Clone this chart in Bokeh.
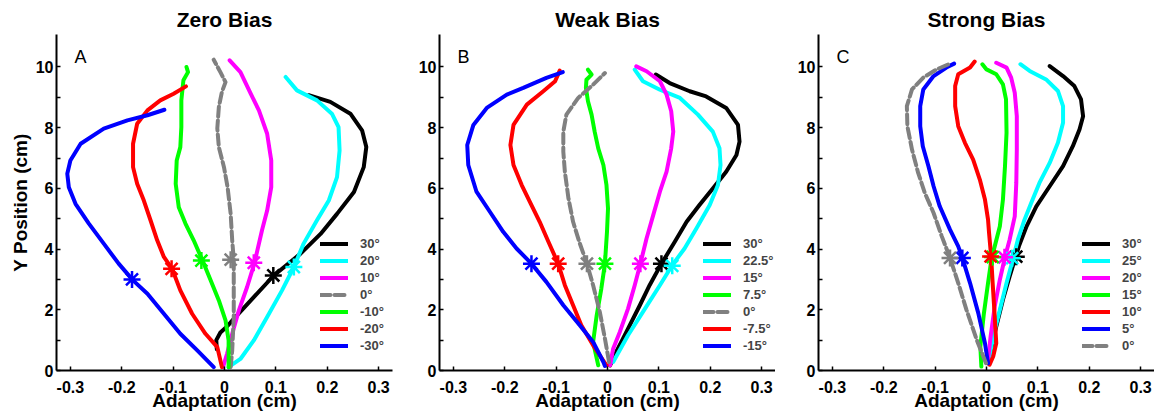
from bokeh.plotting import figure
from bokeh.models import FixedTicker, Legend, LegendItem, Label
from bokeh.layouts import row
from bokeh.embed import file_html
from bokeh.resources import INLINE

# ---------------- Panel A: Zero Bias ----------------
A_labels = ["30°", "20°", "10°", "0°", "-10°", "-20°", "-30°"]
A_colors = ["black", "cyan", "magenta", "gray", "green", "red", "blue"]
A_p30_x = [-0.015, -0.016, -0.008, 0.005, 0.018, 0.057, 0.096, 0.148, 0.187, 0.219, 0.252, 0.271, 0.276, 0.268, 0.245, 0.206, 0.164]
A_p30_y = [0.70, 1.00, 1.25, 1.45, 1.70, 2.42, 3.13, 3.85, 4.50, 5.16, 5.88, 6.70, 7.36, 7.90, 8.46, 8.85, 9.07]
A_p20_x = [0.008, 0.012, 0.031, 0.057, 0.083, 0.112, 0.135, 0.154, 0.180, 0.203, 0.219, 0.224, 0.222, 0.209, 0.180, 0.141, 0.119]
A_p20_y = [0.10, 0.16, 0.38, 0.99, 1.76, 2.64, 3.41, 4.18, 4.95, 5.60, 6.37, 7.25, 8.02, 8.46, 8.90, 9.23, 9.67]
A_p10_x = [-0.003, 0.005, 0.015, 0.028, 0.044, 0.058, 0.073, 0.083, 0.091, 0.091, 0.083, 0.067, 0.051, 0.031, 0.010]
A_p10_y = [0.11, 0.55, 1.21, 1.98, 2.75, 3.52, 4.62, 5.27, 6.04, 6.92, 7.80, 8.57, 9.12, 9.83, 10.22]
A_0_x = [0.012, 0.015, 0.018, 0.018, 0.018, 0.015, 0.012, 0.006, -0.001, -0.011, -0.014, -0.011, -0.005, 0.002, -0.008, -0.021]
A_0_y = [0.11, 0.66, 1.76, 2.86, 3.65, 4.29, 5.16, 6.04, 6.70, 7.36, 7.98, 8.68, 9.18, 9.50, 9.83, 10.24]
A_m10_x = [0.008, 0.008, 0.002, -0.011, -0.027, -0.043, -0.060, -0.076, -0.089, -0.095, -0.093, -0.086, -0.084, -0.084, -0.080, -0.071, -0.074]
A_m10_y = [0.11, 0.99, 1.65, 2.31, 2.97, 3.63, 4.29, 4.84, 5.38, 6.15, 6.92, 7.36, 8.02, 8.90, 9.56, 9.83, 10.00]
A_m20_x = [-0.005, -0.014, -0.037, -0.063, -0.086, -0.102, -0.118, -0.131, -0.144, -0.157, -0.170, -0.178, -0.178, -0.170, -0.150, -0.125, -0.099, -0.075]
A_m20_y = [0.11, 0.77, 1.21, 1.87, 2.64, 3.35, 3.74, 4.29, 4.95, 5.60, 6.15, 6.70, 7.47, 8.13, 8.57, 8.90, 9.12, 9.36]
A_m30_x = [-0.021, -0.053, -0.086, -0.118, -0.150, -0.178, -0.206, -0.235, -0.264, -0.290, -0.303, -0.306, -0.300, -0.280, -0.235, -0.189, -0.150, -0.117]
A_m30_y = [0.11, 0.66, 1.21, 1.87, 2.53, 2.97, 3.52, 4.18, 4.84, 5.49, 6.04, 6.48, 6.92, 7.47, 7.97, 8.24, 8.41, 8.59]
A_star_x = [0.095, 0.135, 0.057, 0.012, -0.045, -0.103, -0.180]
A_star_y = [3.13, 3.41, 3.55, 3.65, 3.62, 3.35, 3.00]

# ---------------- Panel B: Weak Bias ----------------
B_labels = ["30°", "22.5°", "15°", "7.5°", "0°", "-7.5°", "-15°"]
B_colors = ["black", "cyan", "magenta", "green", "gray", "red", "blue"]
B_p30_x = [0.005, 0.017, 0.040, 0.063, 0.082, 0.105, 0.131, 0.154, 0.179, 0.205, 0.231, 0.251, 0.257, 0.254, 0.231, 0.192, 0.160, 0.121, 0.094]
B_p30_y = [0.17, 0.61, 1.38, 2.15, 2.81, 3.52, 4.24, 4.90, 5.45, 6.00, 6.55, 7.10, 7.54, 8.09, 8.65, 9.03, 9.20, 9.47, 9.75]
B_p225_x = [0.011, 0.040, 0.069, 0.102, 0.126, 0.150, 0.173, 0.199, 0.215, 0.220, 0.218, 0.205, 0.176, 0.141, 0.102, 0.069, 0.053]
B_p225_y = [0.28, 1.16, 1.93, 2.81, 3.47, 4.02, 4.68, 5.45, 6.11, 6.77, 7.32, 7.87, 8.43, 8.98, 9.25, 9.53, 9.91]
B_p15_x = [0.005, 0.011, 0.024, 0.040, 0.053, 0.064, 0.076, 0.089, 0.102, 0.115, 0.124, 0.128, 0.124, 0.115, 0.102, 0.076, 0.056]
B_p15_y = [0.17, 0.72, 1.27, 2.04, 2.81, 3.52, 4.35, 5.12, 5.89, 6.55, 7.32, 7.87, 8.54, 9.09, 9.53, 9.86, 10.02]
B_p75_x = [-0.018, -0.028, -0.021, -0.012, -0.005, -0.001, 0.001, -0.002, -0.008, -0.018, -0.025, -0.031, -0.038, -0.042, -0.041, -0.031, -0.038]
B_p75_y = [0.17, 0.94, 1.82, 2.70, 3.52, 4.57, 5.34, 6.11, 6.77, 7.32, 7.87, 8.43, 8.87, 9.31, 9.58, 9.75, 9.91]
B_0_x = [0.003, -0.005, -0.015, -0.028, -0.040, -0.055, -0.067, -0.076, -0.083, -0.086, -0.086, -0.080, -0.057, -0.028, -0.005]
B_0_y = [0.28, 1.05, 1.93, 2.81, 3.52, 4.24, 4.90, 5.67, 6.55, 7.21, 7.87, 8.43, 8.98, 9.42, 9.80]
B_m75_x = [-0.002, -0.028, -0.051, -0.067, -0.083, -0.096, -0.115, -0.132, -0.148, -0.167, -0.183, -0.189, -0.183, -0.157, -0.125, -0.102, -0.093]
B_m75_y = [0.17, 0.83, 1.49, 2.15, 2.81, 3.52, 4.24, 4.90, 5.45, 6.11, 6.77, 7.43, 8.09, 8.76, 9.20, 9.53, 9.88]
B_m15_x = [-0.005, -0.008, -0.028, -0.054, -0.086, -0.119, -0.148, -0.177, -0.203, -0.229, -0.255, -0.271, -0.273, -0.261, -0.235, -0.196, -0.164, -0.119, -0.087]
B_m15_y = [0.15, 0.28, 0.94, 1.49, 2.15, 2.92, 3.52, 4.02, 4.57, 5.23, 5.89, 6.77, 7.43, 8.09, 8.65, 9.09, 9.31, 9.64, 9.83]
B_star_x = [0.105, 0.126, 0.064, -0.005, -0.040, -0.096, -0.148]
B_star_y = [3.52, 3.45, 3.52, 3.52, 3.52, 3.52, 3.52]

# ---------------- Panel C: Strong Bias ----------------
C_labels = ["30°", "25°", "20°", "15°", "10°", "5°", "0°"]
C_colors = ["black", "cyan", "magenta", "green", "red", "blue", "gray"]
C_p30_x = [0.003, 0.010, 0.019, 0.032, 0.045, 0.057, 0.063, 0.078, 0.097, 0.123, 0.149, 0.168, 0.181, 0.188, 0.184, 0.171, 0.149, 0.123]
C_p30_y = [0.24, 0.79, 1.45, 2.33, 3.10, 3.76, 4.09, 4.75, 5.41, 6.07, 6.73, 7.39, 7.94, 8.38, 8.93, 9.37, 9.70, 10.03]
C_p25_x = [0.005, 0.013, 0.026, 0.039, 0.052, 0.061, 0.074, 0.087, 0.103, 0.123, 0.139, 0.149, 0.149, 0.139, 0.116, 0.084, 0.066]
C_p25_y = [0.35, 1.12, 2.00, 2.88, 3.71, 4.31, 4.97, 5.52, 6.18, 6.84, 7.50, 8.16, 8.71, 9.21, 9.59, 9.87, 10.09]
C_p20_x = [0.003, 0.008, 0.016, 0.026, 0.036, 0.045, 0.055, 0.058, 0.059, 0.059, 0.055, 0.048, 0.039, 0.019]
C_p20_y = [0.35, 1.12, 2.11, 2.99, 3.74, 4.31, 5.08, 6.18, 7.28, 8.38, 9.15, 9.65, 9.98, 10.14]
C_p15_x = [-0.010, -0.012, -0.005, 0.003, 0.010, 0.016, 0.026, 0.032, 0.036, 0.039, 0.038, 0.032, 0.019, 0.000, -0.008]
C_p15_y = [0.13, 0.79, 1.89, 2.88, 3.71, 4.09, 4.75, 5.63, 6.73, 7.83, 8.93, 9.43, 9.76, 9.92, 10.09]
C_p10_x = [0.006, 0.013, 0.019, 0.016, 0.012, 0.009, 0.005, 0.003, -0.003, -0.013, -0.026, -0.042, -0.055, -0.061, -0.061, -0.055, -0.032, -0.023]
C_p10_y = [0.19, 0.46, 0.90, 1.78, 2.88, 3.76, 4.53, 4.97, 5.63, 6.29, 6.95, 7.50, 8.05, 8.71, 9.37, 9.76, 9.98, 10.18]
C_p5_x = [0.003, -0.003, -0.016, -0.032, -0.047, -0.055, -0.071, -0.091, -0.103, -0.113, -0.124, -0.129, -0.129, -0.123, -0.103, -0.078, -0.063]
C_p5_y = [0.24, 0.90, 1.89, 2.88, 3.71, 4.09, 4.64, 5.41, 6.07, 6.73, 7.39, 8.05, 8.71, 9.26, 9.70, 9.98, 10.11]
C_0_x = [-0.001, -0.019, -0.039, -0.055, -0.071, -0.087, -0.103, -0.120, -0.133, -0.145, -0.154, -0.155, -0.145, -0.123, -0.097, -0.071]
C_0_y = [0.24, 1.01, 2.00, 2.88, 3.71, 4.42, 5.19, 5.85, 6.51, 7.28, 8.05, 8.71, 9.26, 9.65, 9.92, 10.11]
C_star_x = [0.058, 0.050, 0.035, 0.012, 0.008, -0.047, -0.071]
C_star_y = [3.75, 3.70, 3.73, 3.74, 3.76, 3.71, 3.71]

# ---------------- axis ticks ----------------
x_ticks = [-0.3, -0.2, -0.1, 0, 0.1, 0.2, 0.3]
x_tick_labels = ["-0.3", "-0.2", "-0.1", "0", "0.1", "0.2", "0.3"]
y_major = [0, 2, 4, 6, 8, 10]
y_minor = [1, 3, 5, 7, 9]

COLOR = {"black": "#000000", "cyan": "#00FFFF", "magenta": "#FF00FF", "gray": "#808080",
         "green": "#00FF00", "red": "#FF0000", "blue": "#0000FF"}
FONT = "Liberation Sans"
H = 413


def make_panel(title, letter, labels, colors, xs, ys, star_x, star_y, width, left, right, ylabel):
    p = figure(width=width, height=H, x_range=(-0.327, 0.327), y_range=(0, 11.07),
               output_backend="svg", toolbar_location=None,
               min_border_left=left, min_border_right=right, min_border_top=34, min_border_bottom=43)
    p.title.text = title
    p.title.align = "center"
    p.title.text_font = FONT
    p.title.text_font_size = "21px"
    p.title.text_font_style = "bold"
    p.title.text_color = "black"
    p.title.standoff = 7
    p.title.offset = 0
    p.outline_line_color = None
    p.xgrid.visible = False
    p.ygrid.visible = False

    xa = p.xaxis[0]
    xa.ticker = FixedTicker(ticks=x_ticks, minor_ticks=[])
    xa.major_label_overrides = {t: s for t, s in zip(x_ticks, x_tick_labels)}
    xa.axis_label = "Adaptation (cm)"
    ya = p.yaxis[0]
    ya.ticker = FixedTicker(ticks=y_major, minor_ticks=y_minor)
    if ylabel:
        ya.axis_label = "Y Position (cm)"
    for ax in (xa, ya):
        ax.axis_line_width = 2
        ax.axis_line_color = "black"
        ax.major_tick_in = 4
        ax.major_tick_out = 0
        ax.minor_tick_in = 4
        ax.minor_tick_out = 0
        ax.major_tick_line_width = 1.5
        ax.minor_tick_line_width = 1.5
        ax.major_label_text_font = FONT
        ax.major_label_text_font_size = "16px"
        ax.major_label_text_font_style = "bold"
        ax.major_label_text_color = "black"
        ax.axis_label_text_font = FONT
        ax.axis_label_text_font_size = "19px"
        ax.axis_label_text_font_style = "bold"
        ax.axis_label_text_color = "black"
    xa.major_label_standoff = 10
    xa.axis_label_standoff = -6
    ya.major_label_standoff = 3
    ya.axis_label_standoff = 2

    items = []
    for lab, col, x, y in zip(labels, colors, xs, ys):
        r = p.line(x, y, line_color=COLOR[col], line_width=4, line_cap="round", line_join="round",
                   line_dash=("10 4" if col == "gray" else "solid"))
        items.append(LegendItem(label=lab, renderers=[r]))
    for col, sx, sy in zip(colors, star_x, star_y):
        p.scatter([sx], [sy], marker="asterisk", size=17, line_width=2.5, line_color=COLOR[col])

    leg = Legend(items=items, location=(264, 17), padding=0, margin=0, spacing=2,
                 glyph_width=28, glyph_height=15, label_height=15, label_standoff=12,
                 label_text_font=FONT, label_text_font_size="13px", label_text_font_style="bold",
                 border_line_color=None, background_fill_alpha=0)
    p.add_layout(leg)
    p.add_layout(Label(x=-0.292, y=10.33, text=letter, text_font=FONT, text_font_size="18px",
                       text_baseline="middle", text_color="black"))
    return p


pA = make_panel("Zero Bias", "A", A_labels, A_colors,
                [A_p30_x, A_p20_x, A_p10_x, A_0_x, A_m10_x, A_m20_x, A_m30_x],
                [A_p30_y, A_p20_y, A_p10_y, A_0_y, A_m10_y, A_m20_y, A_m30_y],
                A_star_x, A_star_y, 393, 56, 1, True)
pB = make_panel("Weak Bias", "B", B_labels, B_colors,
                [B_p30_x, B_p225_x, B_p15_x, B_p75_x, B_0_x, B_m75_x, B_m15_x],
                [B_p30_y, B_p225_y, B_p15_y, B_p75_y, B_0_y, B_m75_y, B_m15_y],
                B_star_x, B_star_y, 382, 46, 0, False)
pC = make_panel("Strong Bias", "C", C_labels, C_colors,
                [C_p30_x, C_p25_x, C_p20_x, C_p15_x, C_p10_x, C_p5_x, C_0_x],
                [C_p30_y, C_p25_y, C_p20_y, C_p15_y, C_p10_y, C_p5_y, C_0_y],
                C_star_x, C_star_y, 379, 43, 0, False)

layout = row(pA, pB, pC)
open("out.html", "w").write(file_html(layout, INLINE))
